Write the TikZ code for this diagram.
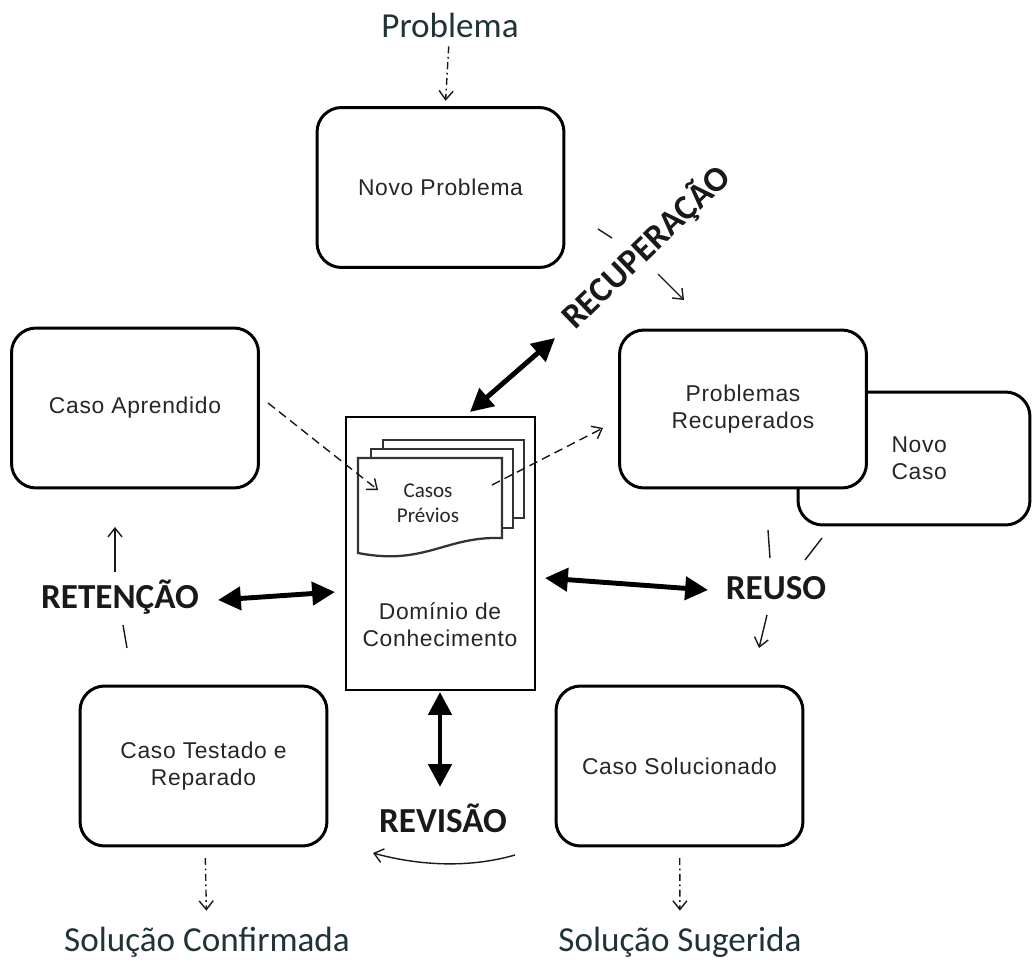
\documentclass[tikz,border=0pt]{standalone}
\usepackage{fontspec}
\setmainfont{Carlito}
\newfontfamily\arialfont[LetterSpace=3]{Liberation Sans}
\usetikzlibrary{arrows.meta}

\definecolor{tinta}{RGB}{32,52,56}

\tikzset{
  caixa/.style={draw=black, line width=1.7pt, rounded corners=14pt, fill=white,
    align=center, text=black!85, font=\arialfont\fontsize{13}{15.5}\selectfont,
    minimum width=4.94cm, minimum height=3.2cm},
  rotulo/.style={font=\bfseries\fontsize{20}{24}\selectfont, text=black!90, inner sep=1pt},
  saida/.style={font=\fontsize{20}{24}\selectfont, text=tinta, inner sep=1pt},
  folha/.style={draw=black!80, line width=1.3pt, fill=white},
  duplo/.style={{Triangle[length=13pt,width=13pt]}-{Triangle[length=13pt,width=13pt]}, line width=2.8pt},
  fino/.style={-{Straight Barb[length=5pt,width=8pt]}, line width=0.8pt, draw=black!90},
  traco/.style={fino, dash pattern=on 5pt off 3pt},
  pontotraco/.style={fino, dash pattern=on 4pt off 2pt on 1pt off 2pt},
}

\begin{document}
\begin{tikzpicture}[x=0.02cm, y=-0.02cm]

  \useasboundingbox (0,0) rectangle (1032,960);

  % caixas
  \node[caixa] (novo) at (440.5,187.5) {Novo Problema};
  \node[caixa] (aprendido) at (135,408) {Caso Aprendido};
  \node[caixa, minimum width=4.64cm, minimum height=2.66cm, text width=2.4cm, align=left] (novocaso) at (914,458.5) {\hspace*{0.75cm}Novo\\\hspace*{0.75cm}Caso};
  \node[caixa, minimum height=3.16cm] (recuperados) at (743,409) {Problemas\\Recuperados};
  \node[caixa] (testado) at (203.5,766) {Caso Testado e\\Reparado};
  \node[caixa] (solucionado) at (679.5,766) {Caso Solucionado};

  % dominio de conhecimento
  \node[draw=black, line width=1pt, minimum width=3.78cm, minimum height=5.46cm] (dominio) at (440.5,553.5) {};
  \node[align=center, text=black!85, font=\arialfont\fontsize{13}{15.5}\selectfont] (dominiotxt) at (440,625) {Domínio de\\Conhecimento};

  % casos previos
  \draw[folha] (383,518) -- (383,440) -- (524,440) -- (524,518) -- cycle;
  \draw[folha] (371,528) -- (371,449) -- (513,449) -- (513,528) -- cycle;
  \draw[folha] (502,538) .. controls (445,536) and (425,566) .. (358,553) -- (358,458) -- (502,458) -- cycle;
  \node[align=center, text=black!85, font=\fontsize{12}{14.5}\selectfont] (casos) at (428,503) {Casos\\Prévios};

  % textos de entrada e saida
  \node[saida] (problema) at (450,25) {Problema};
  \node[saida] (confirmada) at (207,942) {Solução Confirmada};
  \node[saida] (sugerida) at (680,942) {Solução Sugerida};

  \node[rotulo, rotate=44] (recuperacao) at (646,247) {RECUPERAÇÃO};
  \node[rotulo] (retencao) at (120,597) {RETENÇÃO};
  \node[rotulo] (reuso) at (776,588) {REUSO};
  \node[rotulo] (revisao) at (443,818) {REVISÃO};

  \coordinate (Rc0) at (470,412);
  \coordinate (Rc1) at (555,338);
  \coordinate (Rt0) at (218,600);
  \coordinate (Rt1) at (335,592);
  \coordinate (Ru0) at (545,578);
  \coordinate (Ru1) at (708,590);
  \coordinate (Rv0) at (440,692);
  \coordinate (Rv1) at (440,787);

  \draw[duplo] (Rc0) -- (Rc1);
  \draw[duplo] (Rt0) -- (Rt1);
  \draw[duplo] (Ru0) -- (Ru1);
  \draw[duplo] (Rv0) -- (Rv1);

  % setas tracejadas
  \draw[pontotraco, shorten <=4pt, shorten >=3pt] (problema) -- (novo);
  \draw[pontotraco, shorten <=6pt, shorten >=8pt] (testado) -- (confirmada);
  \draw[pontotraco, shorten <=6pt, shorten >=8pt] (solucionado) -- (sugerida);

  \coordinate (A0) at (268,403);
  \coordinate (A1) at (378,490);
  \coordinate (B0) at (492,485);
  \coordinate (B1) at (603,428);
  \draw[traco] (A0) -- (A1);
  \draw[traco] (B0) -- (B1);

  % ciclo
  \draw[line width=0.8pt, black!90] (598,229) -- (612,238);
  \draw[fino] (658,274) -- (684,300);
  \draw[line width=0.8pt, black!90] (768,530) -- (770,558);
  \draw[line width=0.8pt, black!90] (822,538) -- (805,560);
  \draw[fino] (767,615) -- (759,648);
  \draw[fino] (515,855) .. controls (470,868) and (420,866) .. (373,853);
  \draw[line width=0.8pt, black!90] (127,648) -- (123,625);
  \draw[fino] (115,572) -- (115,527);

\end{tikzpicture}
\end{document}
